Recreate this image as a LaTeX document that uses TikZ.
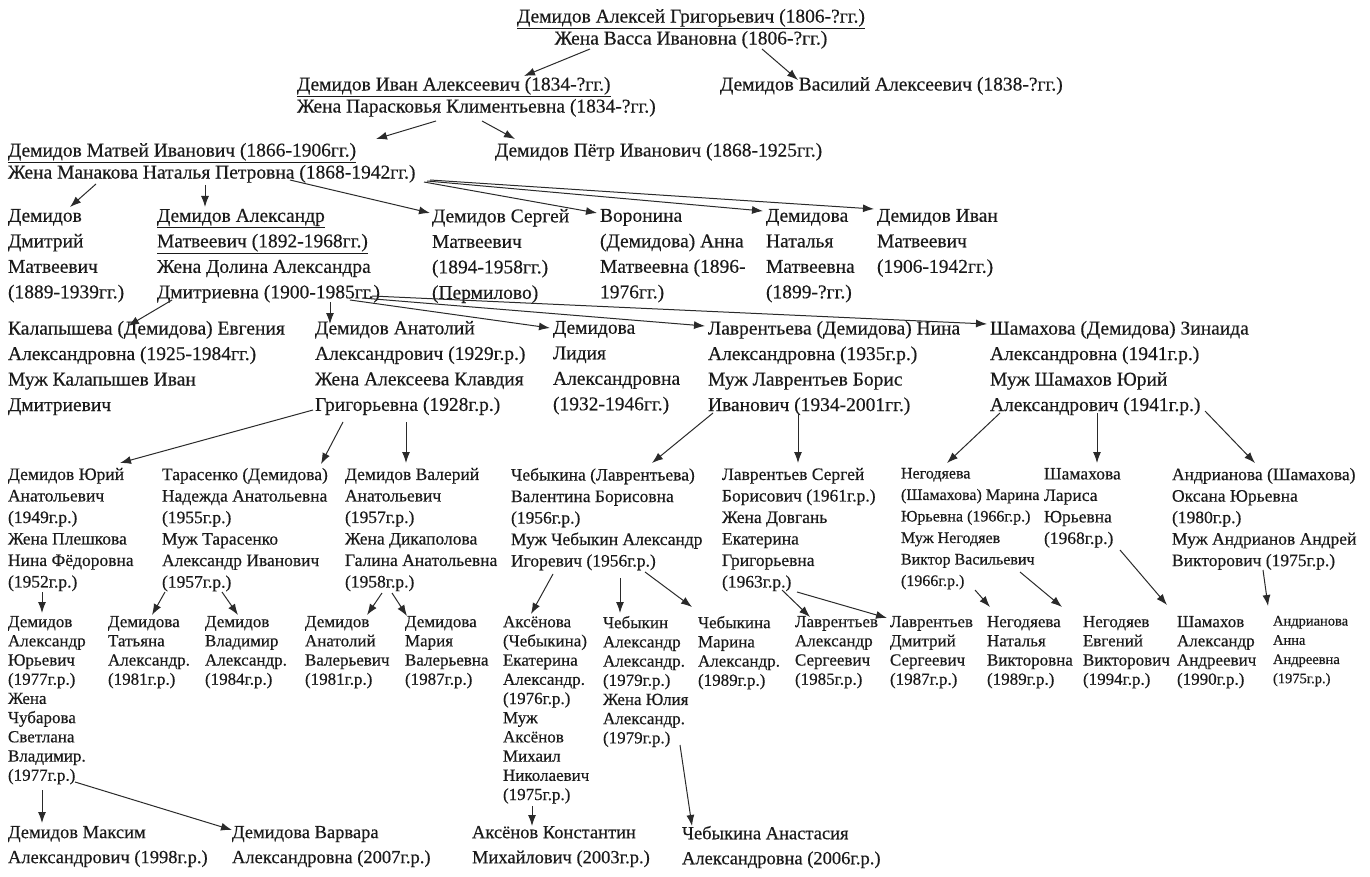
\documentclass[tikz,border=0pt]{standalone}
\usepackage{fontspec}
\setmainfont{Liberation Serif}[FakeBold=0.35]
\usetikzlibrary{arrows.meta,calc}
\definecolor{ink}{HTML}{1A1A1A}
\definecolor{arrowc}{HTML}{2A2A2A}
\newcommand\lnk[4]{\draw[arr] ($(#1.north west)+(#2)$) -- ($(#3.north west)+(#4)$);}
\begin{document}
\begin{tikzpicture}[x=1pt,y=-1pt,
  txt/.style={anchor=north west,align=left,inner sep=0pt,outer sep=0pt,text=ink},
  big/.style={txt,font=\fontsize{19.5}{22}\selectfont},
  mid/.style={txt,font=\fontsize{19.5}{25.5}\selectfont},
  sml/.style={txt,font=\fontsize{17.5}{21.5}\selectfont},
  smn/.style={txt,font=\fontsize{16}{21.5}\selectfont},
  tny/.style={txt,font=\fontsize{17}{19.2}\selectfont},
  tnx/.style={txt,font=\fontsize{14.5}{19.2}\selectfont},
  bot/.style={txt,font=\fontsize{18.5}{25}\selectfont},
  arr/.style={draw=arrowc,line width=1pt,-{Latex[length=11pt,width=8pt]}}]
\fill[white] (0,0) rectangle (1370,877);
\useasboundingbox (0,0) rectangle (1370,877);

% generation 1
\node[big,anchor=north,align=center] (a) at (691,9) {\underline{Демидов Алексей Григорьевич (1806-?гг.)}\\Жена Васса Ивановна (1806-?гг.)};
% generation 2
\node[big] (ivan) at (297,77) {\underline{Демидов Иван Алексеевич (1834-?гг.)}\\Жена Парасковья Климентьевна (1834-?гг.)};
\node[big] (vasily) at (720,77) {Демидов Василий Алексеевич (1838-?гг.)};
% generation 3
\node[big] (matvey) at (8,143) {\underline{Демидов Матвей Иванович (1866-1906гг.)}\\Жена Манакова Наталья Петровна (1868-1942гг.)};
\node[big] (petr) at (495,143) {Демидов Пётр Иванович (1868-1925гг.)};
% generation 4
\node[mid] (dmitry) at (8,209) {Демидов\\Дмитрий\\Матвеевич\\(1889-1939гг.)};
\node[mid] (alex) at (157,209) {\underline{Демидов Александр}\\\underline{Матвеевич (1892-1968гг.)}\\Жена Долина Александра\\Дмитриевна (1900-1985гг.)};
\node[mid] (sergey) at (432,209) {Демидов Сергей\\Матвеевич\\(1894-1958гг.)\\(Пермилово)};
\node[mid] (voronina) at (600,209) {Воронина\\(Демидова) Анна\\Матвеевна (1896-\\1976гг.)};
\node[mid] (natalya) at (766,209) {Демидова\\Наталья\\Матвеевна\\(1899-?гг.)};
\node[mid] (ivanm) at (877,209) {Демидов Иван\\Матвеевич\\(1906-1942гг.)};
% generation 5
\node[mid] (kalap) at (8,321) {Калапышева (Демидова) Евгения\\Александровна (1925-1984гг.)\\Муж Калапышев Иван\\Дмитриевич};
\node[mid] (anatoly) at (315,321) {Демидов Анатолий\\Александрович (1929г.р.)\\Жена Алексеева Клавдия\\Григорьевна (1928г.р.)};
\node[mid] (lidia) at (553,321) {Демидова\\Лидия\\Александровна\\(1932-1946гг.)};
\node[mid] (nina) at (708,321) {Лаврентьева (Демидова) Нина\\Александровна (1935г.р.)\\Муж Лаврентьев Борис\\Иванович (1934-2001гг.)};
\node[mid] (zina) at (990,321) {Шамахова (Демидова) Зинаида\\Александровна (1941г.р.)\\Муж Шамахов Юрий\\Александрович (1941г.р.)};
% generation 6
\node[sml] (yuri) at (8,468) {Демидов Юрий\\Анатольевич\\(1949г.р.)\\Жена Плешкова\\Нина Фёдоровна\\(1952г.р.)};
\node[sml] (taras) at (162,468) {Тарасенко (Демидова)\\Надежда Анатольевна\\(1955г.р.)\\Муж Тарасенко\\Александр Иванович\\(1957г.р.)};
\node[sml] (valery) at (345,468) {Демидов Валерий\\Анатольевич\\(1957г.р.)\\Жена Дикаполова\\Галина Анатольевна\\(1958г.р.)};
\node[sml] (cheb) at (511,468) {Чебыкина (Лаврентьева)\\Валентина Борисовна\\(1956г.р.)\\Муж Чебыкин Александр\\Игоревич (1956г.р.)};
\node[sml] (sergl) at (722,468) {Лаврентьев Сергей\\Борисович (1961г.р.)\\Жена Довгань\\Екатерина\\Григорьевна\\(1963г.р.)};
\node[smn] (negod) at (901,468) {Негодяева\\(Шамахова) Марина\\Юрьевна (1966г.р.)\\Муж Негодяев\\Виктор Васильевич\\(1966г.р.)};
\node[sml] (larisa) at (1044,468) {Шамахова\\Лариса\\Юрьевна\\(1968г.р.)};
\node[sml] (andr) at (1172,468) {Андрианова (Шамахова)\\Оксана Юрьевна\\(1980г.р.)\\Муж Андрианов Андрей\\Викторович (1975г.р.)};
% generation 7
\node[tny] (alexyu) at (8,616) {Демидов\\Александр\\Юрьевич\\(1977г.р.)\\Жена\\Чубарова\\Светлана\\Владимир.\\(1977г.р.)};
\node[tny] (tatyana) at (108,616) {Демидова\\Татьяна\\Александр.\\(1981г.р.)};
\node[tny] (vladimir) at (205,616) {Демидов\\Владимир\\Александр.\\(1984г.р.)};
\node[tny] (anatv) at (305,616) {Демидов\\Анатолий\\Валерьевич\\(1981г.р.)};
\node[tny] (maria) at (405,616) {Демидова\\Мария\\Валерьевна\\(1987г.р.)};
\node[tny] (aksenova) at (503,616) {Аксёнова\\(Чебыкина)\\Екатерина\\Александр.\\(1976г.р.)\\Муж\\Аксёнов\\Михаил\\Николаевич\\(1975г.р.)};
\node[tny] (chebykin) at (603,616) {Чебыкин\\Александр\\Александр.\\(1979г.р.)\\Жена Юлия\\Александр.\\(1979г.р.)};
\node[tny] (marina) at (698,616) {Чебыкина\\Марина\\Александр.\\(1989г.р.)};
\node[tny] (alexl) at (795,616) {Лаврентьев\\Александр\\Сергеевич\\(1985г.р.)};
\node[tny] (dmitryl) at (890,616) {Лаврентьев\\Дмитрий\\Сергеевич\\(1987г.р.)};
\node[tny] (natalyan) at (987,616) {Негодяева\\Наталья\\Викторовна\\(1989г.р.)};
\node[tny] (evgeny) at (1083,616) {Негодяев\\Евгений\\Викторович\\(1994г.р.)};
\node[tny] (shamahov) at (1177,616) {Шамахов\\Александр\\Андреевич\\(1990г.р.)};
\node[tnx] (anna) at (1273,616) {Андрианова\\Анна\\Андреевна\\(1975г.р.)};
% generation 8
\node[bot] (maxim) at (8,826) {Демидов Максим\\Александрович (1998г.р.)};
\node[bot] (varvara) at (232,826) {Демидова Варвара\\Александровна (2007г.р.)};
\node[bot] (konst) at (472,826) {Аксёнов Константин\\Михайлович (2003г.р.)};
\node[bot] (anast) at (682,826) {Чебыкина Анастасия\\Александровна (2006г.р.)};

% connectors
\draw[arr] ($(a.north)+(-101,40)$) -- ($(ivan.north west)+(227,-1)$);
\draw[arr] ($(a.north)+(71,40)$) -- ($(vasily.north west)+(78,3)$);
\lnk{ivan}{139,44}{matvey}{368,-4}
\lnk{ivan}{185,44}{petr}{20,-4}
\lnk{matvey}{88,41}{dmitry}{62,-2}
\lnk{matvey}{197,42}{alex}{48,-2}
\lnk{matvey}{282,37}{sergey}{-2,4}
\lnk{matvey}{416,39}{voronina}{-3,4}
\lnk{matvey}{419,38}{natalya}{-3,2}
\lnk{matvey}{422,37}{ivanm}{-3,0}
\lnk{alex}{15,91}{kalap}{120,5}
\lnk{alex}{173,93}{anatoly}{15,3}
\lnk{alex}{193,91}{lidia}{-3,7}
\lnk{alex}{205,89}{nina}{-3,5}
\lnk{alex}{215,87}{zina}{-3,3}
\lnk{anatoly}{-2,89}{yuri}{112,-5}
\lnk{anatoly}{28,101}{taras}{159,-4}
\lnk{anatoly}{91,101}{valery}{61,-5}
\lnk{nina}{5,92}{cheb}{141,-5}
\lnk{nina}{90,92}{sergl}{76,-5}
\lnk{zina}{10,92}{negod}{46,-5}
\lnk{zina}{107,92}{larisa}{53,-5}
\lnk{zina}{215,90}{andr}{83,-5}
\lnk{yuri}{34,124}{alexyu}{34,-3}
\lnk{taras}{3,124}{tatyana}{44,-1}
\lnk{taras}{60,124}{vladimir}{33,-1}
\lnk{valery}{37,125}{anatv}{62,-1}
\lnk{valery}{47,125}{maria}{2,0}
\lnk{cheb}{42,106}{aksenova}{28,-2}
\lnk{cheb}{109,110}{chebykin}{17,-3}
\lnk{cheb}{134,104}{marina}{-6,-9}
\lnk{sergl}{60,122}{alexl}{15,1}
\lnk{sergl}{75,124}{dmitryl}{-3,2}
\lnk{negod}{74,122}{natalyan}{3,-9}
\lnk{negod}{119,104}{evgeny}{-21,-9}
\lnk{larisa}{76,82}{shamahov}{-10,-11}
\lnk{andr}{91,102}{anna}{-5,-10}
\lnk{alexyu}{34,174}{maxim}{34,-3}
\lnk{alexyu}{67,166}{varvara}{0,4}
\lnk{aksenova}{29,190}{konst}{60,0}
\lnk{chebykin}{77,129}{anast}{10,0}
\end{tikzpicture}
\end{document}
